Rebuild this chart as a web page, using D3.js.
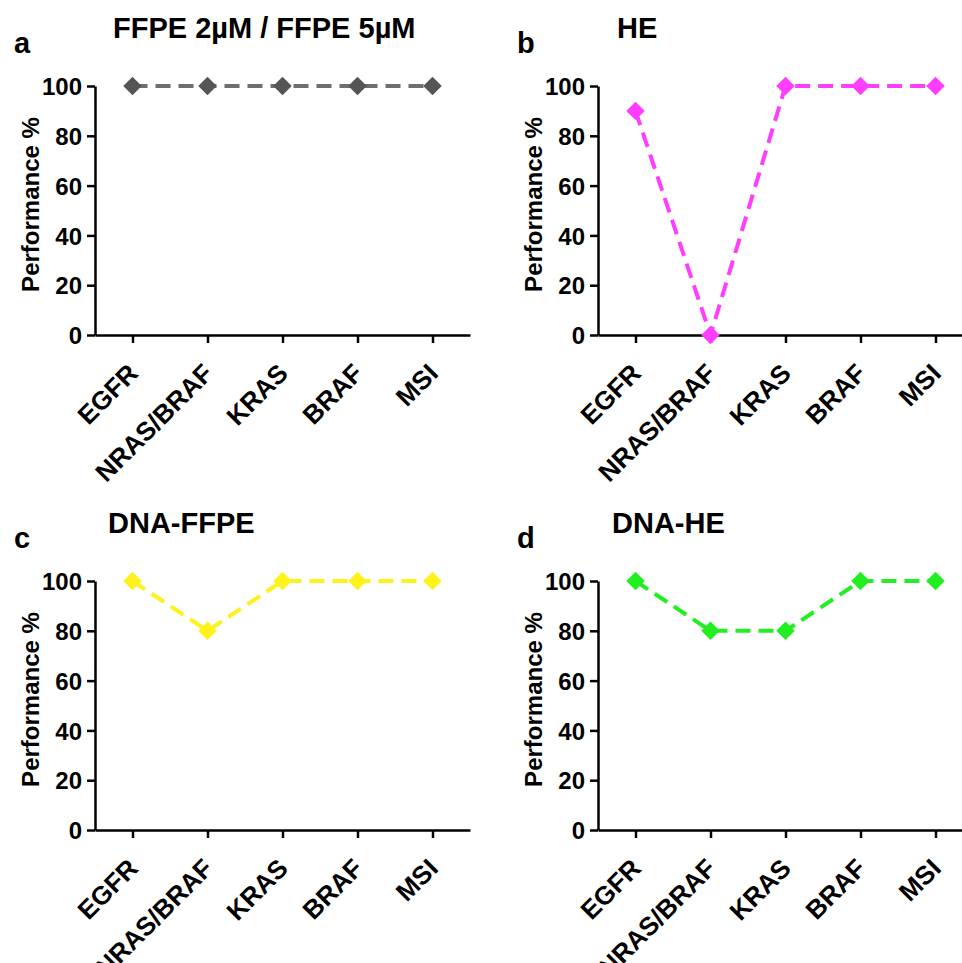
<!DOCTYPE html>
<html>
  <head>
      <title>Performance panels</title>
      <script src="https://cdn.jsdelivr.net/npm/d3@7"></script>
      <style>
        body { margin: 0; background: #fff; }
        text { font-family: Arial, "Liberation Sans", sans-serif; font-weight: bold; }
      </style>
  </head>
  <body>
        <div></div>
        <script>
           // data
           var categories = ["EGFR", "NRAS/BRAF", "KRAS", "BRAF", "MSI"]
           var yTicks = [0, 20, 40, 60, 80, 100]
           var panelLetters = ["a", "b", "c", "d"]
           var panelTitles = ["FFPE 2\u00b5M / FFPE 5\u00b5M", "HE", "DNA-FFPE", "DNA-HE"]
           var valuesA = [100, 100, 100, 100, 100]
           var valuesB = [90, 0, 100, 100, 100]
           var valuesC = [100, 80, 100, 100, 100]
           var valuesD = [100, 80, 80, 100, 100]
           var allValues = [valuesA, valuesB, valuesC, valuesD]

           // look
           var lineColors = ["#6e6e6e", "#ff3dff", "#fff21c", "#22ee22"]
           var markColors = ["#555555", "#ff3dff", "#fff21c", "#22ee22"]
           var offsets = [[0, 0], [503, 0], [0, 495], [503, 495]]
           var titleX = [113, 114, 108, 109]

           var W = 962, H = 963
           var axisX = 95, axisRight = 470, yTop = 86, yBottom = 335

           var svg = d3.select("div").append("svg").attr("width", W).attr("height", H)

           var x = d3.scalePoint().domain(categories).range([axisX, axisRight]).padding(0.5)
           var y = d3.scaleLinear().domain([0, 100]).range([yBottom, yTop])
           var diamond = d3.symbol().type(d3.symbolSquare).size(170)

           allValues.forEach((vals, p) => {
               var g = svg.append("g").attr("transform", "translate(" + offsets[p][0] + "," + offsets[p][1] + ")")

               g.append("text").attr("x", 14).attr("y", 53).attr("font-size", 29).text(panelLetters[p])
               g.append("text").attr("x", titleX[p]).attr("y", 38).attr("font-size", 29).text(panelTitles[p])

               var yAxis = g.append("g").attr("transform", "translate(" + axisX + ",0)")
                   .call(d3.axisLeft(y).tickValues(yTicks).tickSizeInner(8).tickSizeOuter(0).tickPadding(5))
               var xAxis = g.append("g").attr("transform", "translate(0," + yBottom + ")")
                   .call(d3.axisBottom(x).tickSizeInner(8).tickSizeOuter(0).tickFormat(""))
               ;[yAxis, xAxis].forEach(a => {
                   a.selectAll("path, line").attr("stroke", "#000").attr("stroke-width", 2.5)
               })
               yAxis.selectAll("text").attr("font-size", 24).attr("dy", "0.36em").attr("fill", "#000")

               g.selectAll(".xlab").data(categories).enter().append("text")
                   .attr("class", "xlab")
                   .attr("transform", d => "translate(" + (x(d) + 7) + "," + (yBottom + 40) + ") rotate(-45)")
                   .attr("text-anchor", "end")
                   .attr("font-size", 26)
                   .text(d => d)

               g.append("text")
                   .attr("transform", "translate(39," + ((yTop + yBottom) / 2 - 6) + ") rotate(-90)")
                   .attr("text-anchor", "middle")
                   .attr("font-size", 24)
                   .text("Performance %")

               var line = d3.line().x((d, i) => x(categories[i])).y(d => y(d))
               g.append("path").datum(vals)
                   .attr("d", line)
                   .attr("fill", "none")
                   .attr("stroke", lineColors[p])
                   .attr("stroke-width", 4)
                   .attr("stroke-dasharray", "15,8")

               g.selectAll(".pt").data(vals).enter().append("path")
                   .attr("class", "pt")
                   .attr("d", diamond)
                   .attr("transform", (d, i) => "translate(" + x(categories[i]) + "," + y(d) + ") rotate(45)")
                   .attr("fill", markColors[p])
           })
        </script>
  </body>
</html>
